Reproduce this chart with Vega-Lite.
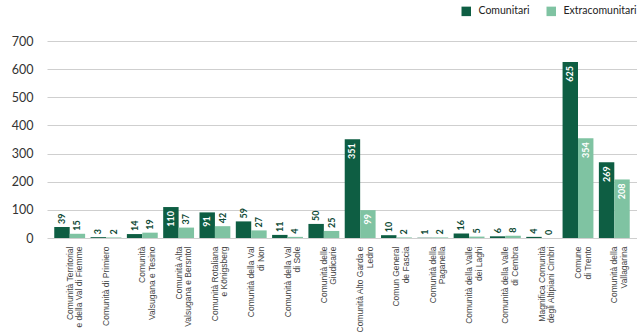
{
  "$schema": "https://vega.github.io/schema/vega-lite/v6.json",
  "width": 590,
  "height": 197,
  "autosize": {"type": "none"},
  "padding": {"left": 47, "top": 41, "right": 0, "bottom": 98},
  "background": "white",
  "config": {"view": {"stroke": null}},
  "data": {"values": [
    {"area": "Comunità Territorial|e della Val di Fiemme", "serie": "Comunitari", "valore": 39},
    {"area": "Comunità Territorial|e della Val di Fiemme", "serie": "Extracomunitari", "valore": 15},
    {"area": "Comunità di Primiero", "serie": "Comunitari", "valore": 3},
    {"area": "Comunità di Primiero", "serie": "Extracomunitari", "valore": 2},
    {"area": "Comunità|Valsugana e Tesino", "serie": "Comunitari", "valore": 14},
    {"area": "Comunità|Valsugana e Tesino", "serie": "Extracomunitari", "valore": 19},
    {"area": "Comunità Alta|Valsugana e Bersntol", "serie": "Comunitari", "valore": 110},
    {"area": "Comunità Alta|Valsugana e Bersntol", "serie": "Extracomunitari", "valore": 37},
    {"area": "Comunità Rotaliana|e Königsberg", "serie": "Comunitari", "valore": 91},
    {"area": "Comunità Rotaliana|e Königsberg", "serie": "Extracomunitari", "valore": 42},
    {"area": "Comunità della Val|di Non", "serie": "Comunitari", "valore": 59},
    {"area": "Comunità della Val|di Non", "serie": "Extracomunitari", "valore": 27},
    {"area": "Comunità della Val|di Sole", "serie": "Comunitari", "valore": 11},
    {"area": "Comunità della Val|di Sole", "serie": "Extracomunitari", "valore": 4},
    {"area": "Comunità delle|Giudicarie", "serie": "Comunitari", "valore": 50},
    {"area": "Comunità delle|Giudicarie", "serie": "Extracomunitari", "valore": 25},
    {"area": "Comunità Alto Garda e|Ledro", "serie": "Comunitari", "valore": 351},
    {"area": "Comunità Alto Garda e|Ledro", "serie": "Extracomunitari", "valore": 99},
    {"area": "Comun General|de Fascia", "serie": "Comunitari", "valore": 10},
    {"area": "Comun General|de Fascia", "serie": "Extracomunitari", "valore": 2},
    {"area": "Comunità della|Paganella", "serie": "Comunitari", "valore": 1},
    {"area": "Comunità della|Paganella", "serie": "Extracomunitari", "valore": 2},
    {"area": "Comunità della Valle|dei Laghi", "serie": "Comunitari", "valore": 16},
    {"area": "Comunità della Valle|dei Laghi", "serie": "Extracomunitari", "valore": 5},
    {"area": "Comunità della Valle|di Cembra", "serie": "Comunitari", "valore": 6},
    {"area": "Comunità della Valle|di Cembra", "serie": "Extracomunitari", "valore": 8},
    {"area": "Magnifica Comunità|degli Altipiani Cimbri", "serie": "Comunitari", "valore": 4},
    {"area": "Magnifica Comunità|degli Altipiani Cimbri", "serie": "Extracomunitari", "valore": 0},
    {"area": "Comune|di Trento", "serie": "Comunitari", "valore": 625},
    {"area": "Comune|di Trento", "serie": "Extracomunitari", "valore": 354},
    {"area": "Comunità della|Vallagarina", "serie": "Comunitari", "valore": 269},
    {"area": "Comunità della|Vallagarina", "serie": "Extracomunitari", "valore": 208}
  ]},
  "encoding": {
    "x": {
      "field": "area", "type": "nominal", "sort": null,
      "scale": {"paddingInner": 0.15, "paddingOuter": 0.2},
      "axis": {
        "title": null, "labelAngle": -90, "labelExpr": "split(datum.value, '|')",
        "labelFont": "Liberation Sans", "labelFontSize": 8.5, "labelColor": "#444",
        "labelLineHeight": 9.5, "ticks": false, "domain": false, "labelPadding": 8, "labelLimit": 0
      }
    },
    "xOffset": {"field": "serie", "type": "nominal", "sort": ["Comunitari", "Extracomunitari"]},
    "y": {
      "field": "valore", "type": "quantitative",
      "scale": {"domain": [0, 700], "nice": false},
      "axis": {
        "title": null, "domain": false, "ticks": false, "labelPadding": 14,
        "values": [0, 100, 200, 300, 400, 500, 600, 700],
        "labelFont": "Lato", "labelFontSize": 12.5, "labelColor": "#333",
        "gridColor": "#cfcfcf", "gridWidth": 1
      }
    }
  },
  "layer": [
    {
      "mark": {"type": "bar"},
      "encoding": {
        "color": {
          "field": "serie", "type": "nominal",
          "scale": {"domain": ["Comunitari", "Extracomunitari"], "range": ["#0e5e43", "#7fc3a2"]},
          "legend": {
            "title": null, "orient": "none", "direction": "horizontal",
            "legendX": 414, "legendY": -35, "symbolType": "square", "symbolSize": 90,
            "symbolStrokeWidth": 0, "labelFont": "Lato", "labelFontSize": 10.5, "labelColor": "#222",
            "labelOffset": 7, "columnPadding": 16
          }
        }
      }
    },
    {
      "transform": [{"filter": "datum.valore >= 90"}],
      "mark": {"type": "text", "angle": -90, "align": "right", "baseline": "middle", "dx": -4,
               "font": "Lato", "fontWeight": "bold", "fontSize": 9, "fill": "white"},
      "encoding": {"text": {"field": "valore", "type": "quantitative"}}
    },
    {
      "transform": [{"filter": "datum.valore < 90"}],
      "mark": {"type": "text", "angle": -90, "align": "left", "baseline": "middle", "dx": 3,
               "font": "Lato", "fontWeight": "bold", "fontSize": 9, "fill": "#0e4a35"},
      "encoding": {"text": {"field": "valore", "type": "quantitative"}}
    }
  ]
}
